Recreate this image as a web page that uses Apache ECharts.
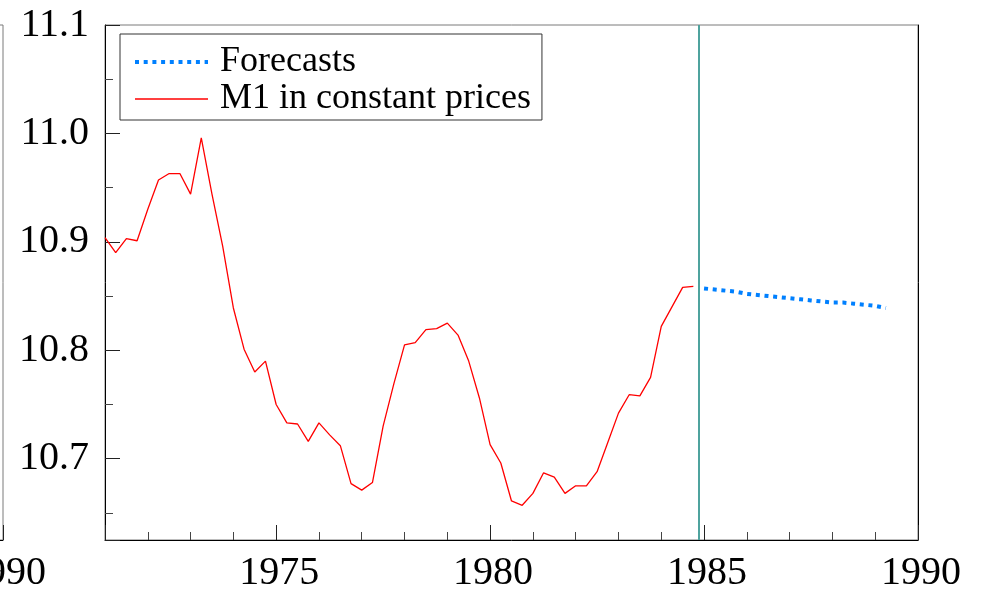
<!DOCTYPE html>
<html>
<head>
<meta charset="utf-8">
<title>M1 in constant prices with forecasts</title>
<script src="https://cdn.jsdelivr.net/npm/echarts@6/dist/echarts.min.js"></script>
<style>
  html, body { margin: 0; padding: 0; background: #ffffff; }
  #chart { width: 983px; height: 595px; }
</style>
</head>
<body>
<div id="chart"></div>
<script>
// Quarterly log real M1, 1971Q1 onwards
const m1Start = 1971;
const m1Values = [
  10.904, 10.890, 10.903, 10.901,
  10.930, 10.957, 10.963, 10.963,
  10.944, 10.996, 10.944, 10.896,
  10.839, 10.801, 10.780, 10.790,
  10.750, 10.733, 10.732, 10.716,
  10.733, 10.722, 10.712, 10.677,
  10.671, 10.678, 10.730, 10.769,
  10.805, 10.807, 10.819, 10.820,
  10.825, 10.814, 10.790, 10.756,
  10.713, 10.696, 10.661, 10.657,
  10.668, 10.687, 10.683, 10.668,
  10.675, 10.675, 10.688, 10.715,
  10.742, 10.759, 10.758, 10.775,
  10.822, 10.840, 10.858, 10.859
];

// Dynamic forecasts, 1985Q1 onwards
const forecastStart = 1985;
const forecastValues = [
  10.857, 10.856, 10.855, 10.854,
  10.852, 10.851, 10.850, 10.849,
  10.848, 10.847, 10.846, 10.845,
  10.844, 10.844, 10.843, 10.842,
  10.841, 10.839
];

// End of the estimation sample
const forecastOrigin = 1984.875;

// Axis ranges and labelled ticks
const xRange = [1971, 1990];
const yRange = [10.625, 11.1];
const xTickLabels = ['1975', '1980', '1985', '1990'];
const yTickLabels = ['10.7', '10.8', '10.9', '11.0', '11.1'];

function quarterly(start, values) {
  return values.map((v, i) => [start + i / 4, v]);
}

const FONT = "'Liberation Serif', 'Times New Roman', serif";

function xAxisFor(gridIndex) {
  return {
    type: 'value',
    gridIndex: gridIndex,
    min: xRange[0],
    max: xRange[1],
    minInterval: 5,
    maxInterval: 5,
    axisLine: { show: true, onZero: false, lineStyle: { color: '#000000', width: 1 } },
    axisTick: { show: true, inside: true, length: 15, lineStyle: { color: '#222222', width: 1 } },
    minorTick: { show: true, splitNumber: 5, length: 8, lineStyle: { color: '#444444', width: 1 } },
    splitLine: { show: false },
    minorSplitLine: { show: false },
    axisLabel: {
      show: true,
      margin: 13,
      padding: [0, 0, 0, 6],
      color: '#000000',
      fontFamily: FONT,
      fontSize: 40,
      formatter: v => {
        const s = String(Math.round(v));
        return xTickLabels.includes(s) && Math.abs(v - Math.round(v)) < 1e-6 ? s : '';
      }
    }
  };
}

function yAxisFor(gridIndex, showLabels) {
  return {
    type: 'value',
    gridIndex: gridIndex,
    min: yRange[0],
    max: yRange[1],
    minInterval: 0.1,
    maxInterval: 0.1,
    axisLine: { show: true, onZero: false, lineStyle: { color: '#000000', width: 1 } },
    axisTick: { show: true, inside: true, length: 15, lineStyle: { color: '#222222', width: 1 } },
    minorTick: { show: true, splitNumber: 2, length: 8, lineStyle: { color: '#444444', width: 1 } },
    splitLine: { show: false },
    minorSplitLine: { show: false },
    axisLabel: {
      show: showLabels,
      margin: 16,
      color: '#000000',
      fontFamily: FONT,
      fontSize: 40,
      formatter: v => {
        const s = v.toFixed(1);
        return yTickLabels.includes(s) && Math.abs(v * 10 - Math.round(v * 10)) < 1e-6 ? s : '';
      }
    }
  };
}

const chart = echarts.init(document.getElementById('chart'), null, { renderer: 'canvas' });

chart.setOption({
  backgroundColor: '#ffffff',
  animation: false,
  grid: [
    // main panel
    { left: 105, top: 25, width: 813, height: 515, show: true, borderColor: '#7a7a7a', borderWidth: 1,
      backgroundColor: 'transparent', outerBoundsMode: 'none', containLabel: false },
    // neighbouring panel, only its right edge falls inside the page
    { left: -810, top: 25, width: 813, height: 515, show: true, borderColor: '#7a7a7a', borderWidth: 1,
      backgroundColor: 'transparent', outerBoundsMode: 'none', containLabel: false }
  ],
  xAxis: [xAxisFor(0), xAxisFor(1)],
  yAxis: [
    yAxisFor(0, true),
    Object.assign(yAxisFor(0, false), {
      position: 'right',
      axisTick: { show: false },
      minorTick: { show: false }
    }),
    yAxisFor(1, false)
  ],
  legend: {
    show: true,
    orient: 'vertical',
    left: 120,
    top: 34,
    padding: [10, 11, 3, 13],
    itemGap: 1,
    itemWidth: 73,
    itemHeight: 14,
    borderColor: '#333333',
    borderWidth: 1,
    backgroundColor: '#ffffff',
    itemStyle: { opacity: 0 },
    lineStyle: { width: 'inherit', type: 'inherit' },
    data: ['Forecasts', 'M1 in constant prices'],
    textStyle: {
      color: '#000000',
      fontFamily: FONT,
      fontSize: 36,
      padding: [0, 0, 0, 7]
    }
  },
  series: [
    {
      name: 'M1 in constant prices',
      type: 'line',
      xAxisIndex: 0,
      yAxisIndex: 0,
      data: quarterly(m1Start, m1Values),
      symbol: 'none',
      showSymbol: false,
      color: '#ff0000',
      lineStyle: { color: '#ff0000', width: 1.3 },
      z: 3,
      markLine: {
        silent: true,
        symbol: 'none',
        label: { show: false },
        lineStyle: { color: '#4fa39e', width: 2, type: 'solid' },
        data: [{ xAxis: forecastOrigin }]
      }
    },
    {
      name: 'Forecasts',
      type: 'line',
      xAxisIndex: 0,
      yAxisIndex: 0,
      data: quarterly(forecastStart, forecastValues),
      symbol: 'none',
      showSymbol: false,
      color: '#0080ff',
      lineStyle: { color: '#0080ff', width: 4, type: [4, 4.7] },
      z: 4
    }
  ]
});
</script>
</body>
</html>
